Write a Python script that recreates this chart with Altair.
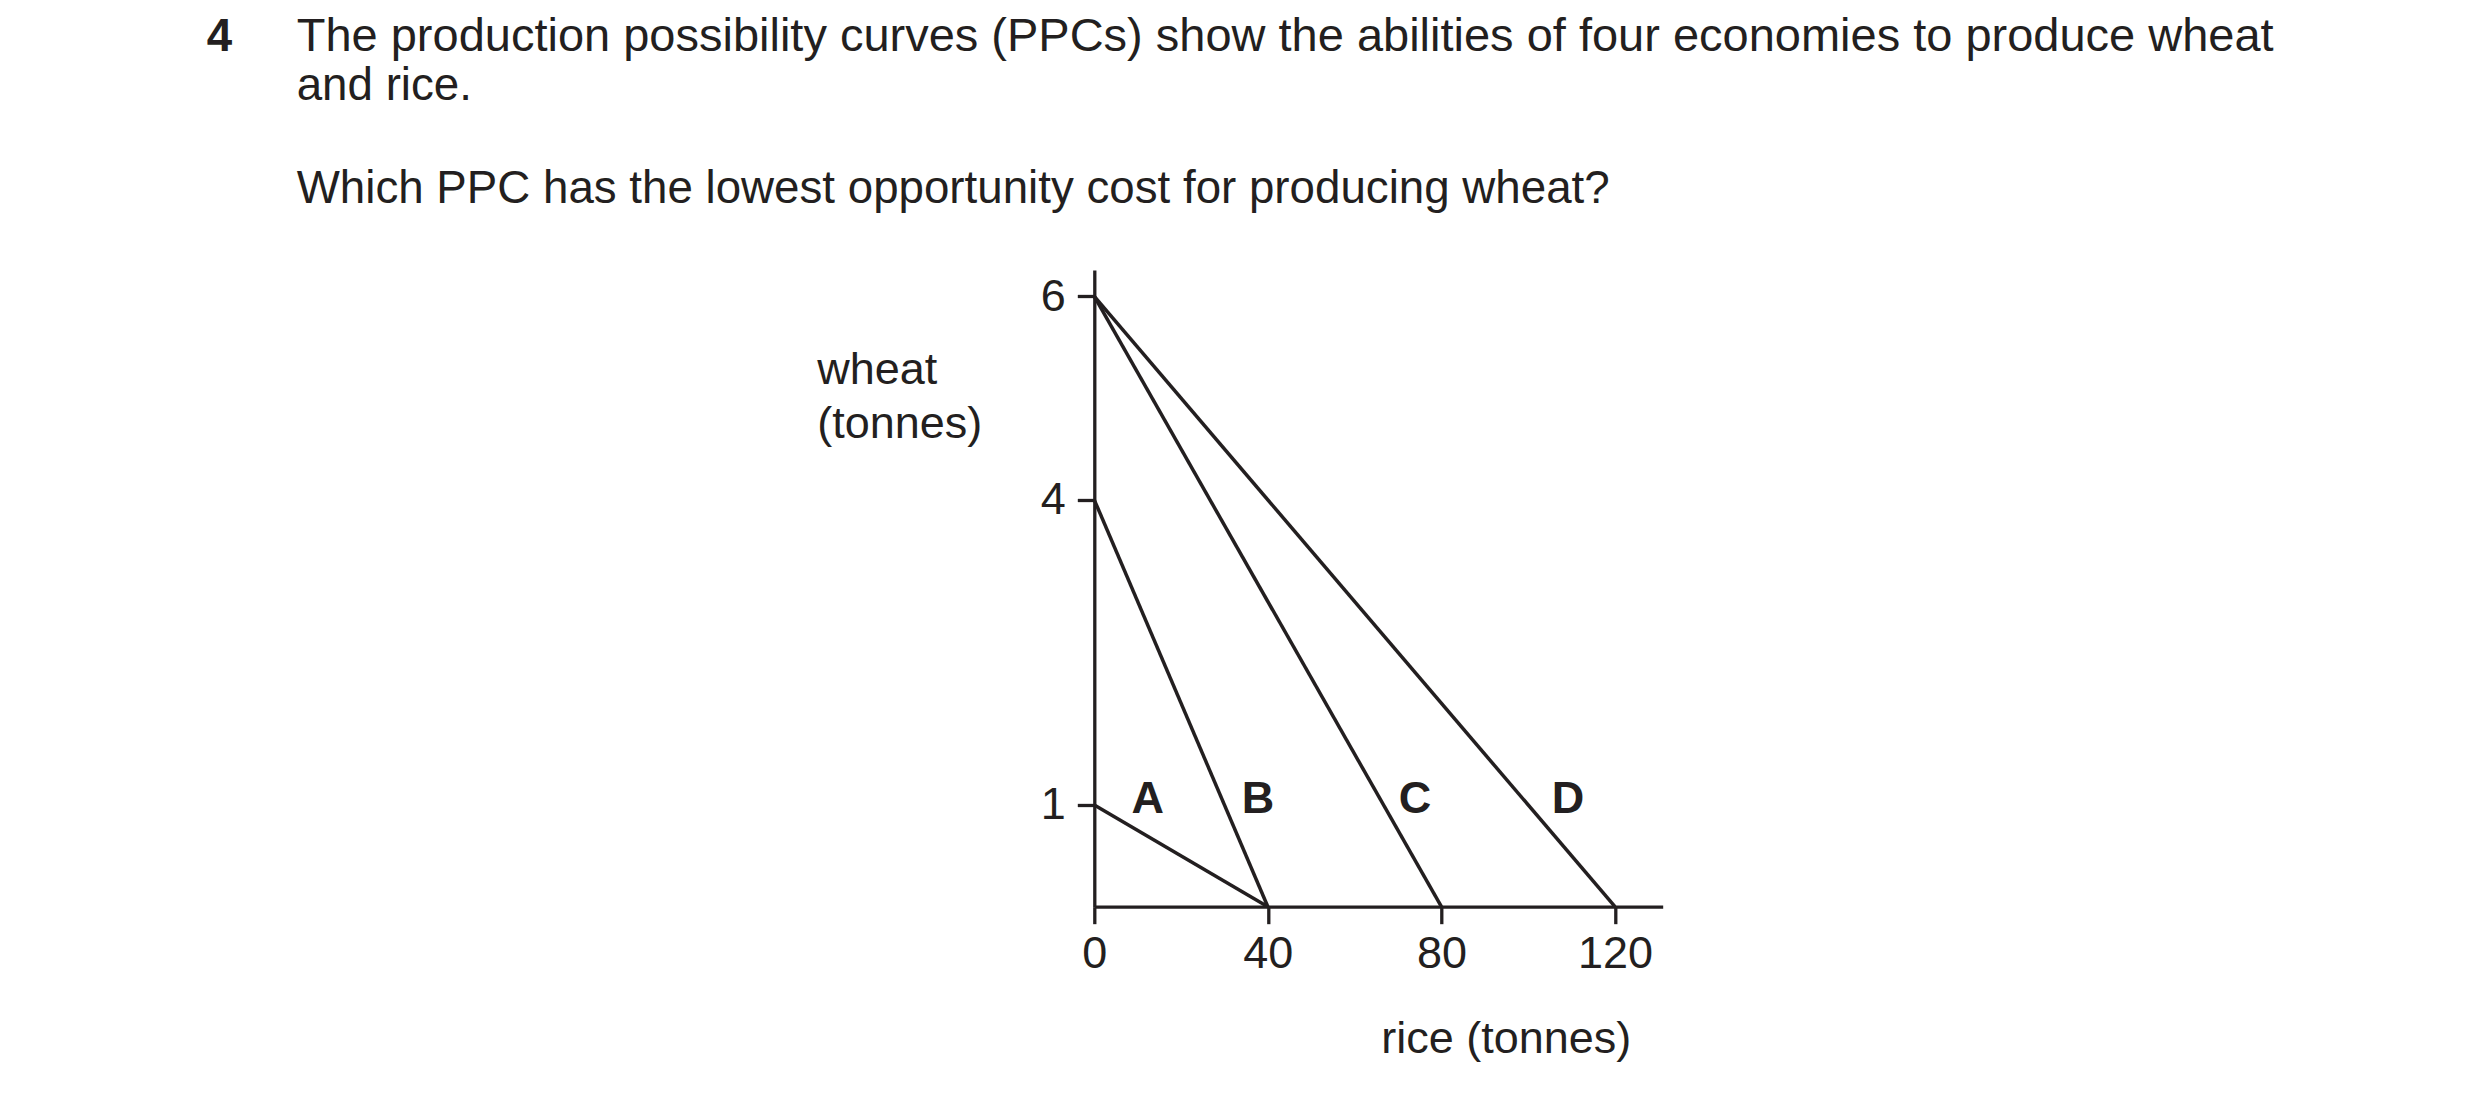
import altair as alt
import pandas as pd

# ---- data ----
curves = ["A", "A", "B", "B", "C", "C", "D", "D"]
rice = [0, 40, 0, 40, 0, 80, 0, 120]
wheat = [1, 0, 4, 0, 6, 0, 6, 0]

label_names = ["A", "B", "C", "D"]
label_rice = [12.3, 37.7, 73.9, 109.2]
label_wheat = [1.06, 1.06, 1.06, 1.06]

x_ticks = [0, 40, 80, 120]
y_ticks = [1, 4, 6]

q_number = "4"
q_lines = [
    "The production possibility curves (PPCs) show the abilities of four economies to produce wheat",
    "and rice.",
    "Which PPC has the lowest opportunity cost for producing wheat?",
]
x_title = "rice (tonnes)"
y_title = ["wheat", "(tonnes)"]

INK = "#231f20"
FONT = "Liberation Sans"
FS = 45
QFS = 45.7
QFS_JUST = 47  # first line is justified (stretched) in the reference

# plot-area geometry (pixels)
W = 568.4
H = 636.7
X_MAX = 131
Y_MAX = 6.26

ppc = pd.DataFrame({"curve": curves, "rice": rice, "wheat": wheat})
labs = pd.DataFrame({"name": label_names, "rice": label_rice, "wheat": label_wheat})

xscale = alt.Scale(domain=[0, X_MAX], nice=False, zero=False)
yscale = alt.Scale(domain=[0, Y_MAX], nice=False, zero=False)

xaxis = alt.Axis(
    values=x_ticks, format="d", grid=False, domain=True, domainColor=INK, domainWidth=3.3,
    ticks=True, tickColor=INK, tickWidth=3.3, tickSize=17,
    labelFont=FONT, labelFontSize=FS, labelColor=INK, labelPadding=8,
    labelFlush=False, labelOverlap=False,
    title=x_title, titleFont=FONT, titleFontSize=FS, titleFontWeight="normal",
    titleColor=INK, titleAlign="left", titleBaseline="alphabetic",
    titleX=286.4, titleY=145.6, titleAnchor="start",
)
yaxis = alt.Axis(
    values=y_ticks, format="d", grid=False, domain=True, domainColor=INK, domainWidth=3.3,
    ticks=True, tickColor=INK, tickWidth=3.3, tickSize=17,
    labelFont=FONT, labelFontSize=FS, labelColor=INK, labelPadding=12,
    labelFlush=False, labelOverlap=False, labelBaseline="middle",
    title=y_title, titleFont=FONT, titleFontSize=FS, titleFontWeight="normal",
    titleColor=INK, titleAngle=0, titleAlign="left", titleBaseline="alphabetic",
    titleX=-277.6, titleY=113.3, titleLineHeight=54, titleAnchor="start",
)

lines = alt.Chart(ppc).mark_line(color=INK, strokeWidth=3.5, clip=False).encode(
    x=alt.X("rice:Q", scale=xscale, axis=xaxis),
    y=alt.Y("wheat:Q", scale=yscale, axis=yaxis),
    detail="curve:N",
)

letters = alt.Chart(labs).mark_text(
    font=FONT, fontSize=FS, fontWeight="bold", color=INK, align="center", baseline="middle"
).encode(
    x=alt.X("rice:Q", scale=xscale),
    y=alt.Y("wheat:Q", scale=yscale),
    text="name:N",
)

# question text, positioned relative to plot origin (1094.3, 270)
OX, OY = 1094.3, 270.0

def txt(s, x, y, size, bold=False):
    return alt.Chart(pd.DataFrame({"t": [s]})).mark_text(
        font=FONT, fontSize=size, fontWeight="bold" if bold else "normal",
        color=INK, align="left", baseline="alphabetic",
    ).encode(x=alt.value(x - OX), y=alt.value(y - OY), text="t:N")

qnum = txt(q_number, 206.7, 51, QFS, bold=True)
q1 = txt(q_lines[0], 296.7, 51, QFS_JUST)
q2 = txt(q_lines[1], 296.7, 100.5, QFS)
q3 = txt(q_lines[2], 296.7, 203.3, QFS)

chart = alt.layer(lines, letters, qnum, q1, q2, q3).properties(
    width=W, height=H,
    autosize=alt.AutoSizeParams(type="none"),
    padding={"left": OX - 8, "top": OY - 8, "right": 2464 - (OX - 8) - W, "bottom": 178},
    background="white",
).configure_view(stroke=None)

chart.save("out.html", embed_options={"renderer": "svg", "actions": False})
